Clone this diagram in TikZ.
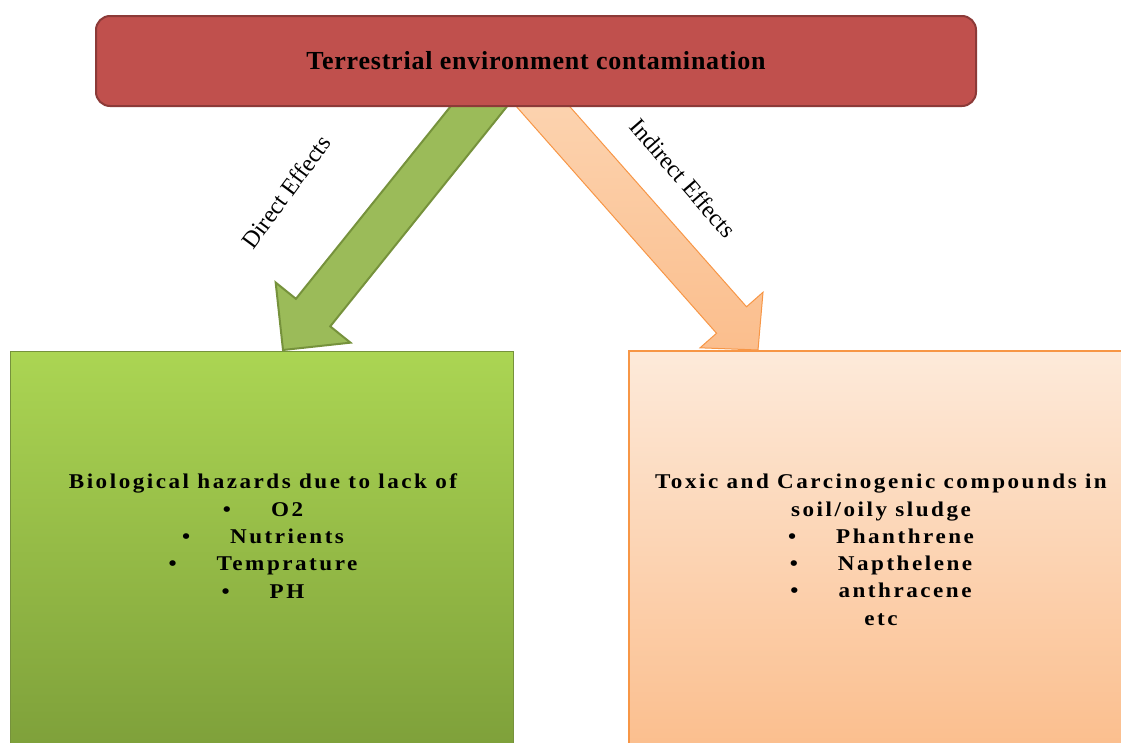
\documentclass[tikz,border=0pt]{standalone}
\usepackage{fontspec}
\setmainfont{Liberation Serif}
\usetikzlibrary{calc,backgrounds,positioning}

\definecolor{topred}{RGB}{192,80,77}
\definecolor{topredline}{RGB}{140,58,56}
\definecolor{greentop}{RGB}{171,213,83}
\definecolor{greenbot}{RGB}{126,160,58}
\definecolor{greenline}{RGB}{118,146,60}
\definecolor{greenarrow}{RGB}{155,187,89}
\definecolor{orangetop}{RGB}{253,234,218}
\definecolor{orangebot}{RGB}{251,190,141}
\definecolor{orangemid}{RGB}{252,214,180}
\definecolor{orangeline}{RGB}{247,150,70}

\begin{document}
\begin{tikzpicture}[x=1pt,y=-1pt,font=\bfseries]

   \tikzstyle{headbox}=[draw=topredline,fill=topred,line width=2pt,rounded corners=14pt,minimum width=880pt,minimum height=90pt,font=\bfseries\fontsize{26}{30}\selectfont\addfontfeatures{LetterSpace=3}]
   \tikzstyle{greenbox}=[draw=greenline,top color=greentop,bottom color=greenbot,line width=1pt,minimum width=503pt,minimum height=400pt,anchor=north]
   \tikzstyle{orangebox}=[draw=orangeline,top color=orangetop,bottom color=orangebot,line width=1.5pt,minimum width=500pt,minimum height=400pt,anchor=north]
   \tikzstyle{boxtext}=[anchor=north,inner sep=0pt,align=center,font=\bfseries\fontsize{21}{27.3}\selectfont\addfontfeatures{FakeStretch=1.1,LetterSpace=12}]
   \tikzstyle{effect}=[inner sep=0pt,font=\fontsize{24}{24}\selectfont]
   \tikzstyle{greenarr}=[draw=greenline,fill=greenarrow,line width=2pt,line join=miter]
   \tikzstyle{orangearr}=[draw=orangeline,top color=orangemid,bottom color=orangebot,line width=1pt,line join=miter]

   \useasboundingbox (0,0) rectangle (1121,742);

   \node[headbox] (top) at (536,61) {Terrestrial environment contamination};

   \node[greenbox] (bio) at (261.5,351) {};
   \node[orangebox] (tox) at (879,350) {};

   \node[boxtext] (biotext) at (263,474)
     {Biological hazards due to lack of\\
      \textbullet\hspace{40pt}O2\\
      \textbullet\hspace{40pt}Nutrients\\
      \textbullet\hspace{40pt}Temprature\\
      \textbullet\hspace{40pt}PH};

   \node[boxtext] (toxtext) at (881,474)
     {Toxic and Carcinogenic compounds in\\
      soil/oily sludge\\
      \textbullet\hspace{40pt}Phanthrene\\
      \textbullet\hspace{40pt}Napthelene\\
      \textbullet\hspace{40pt}anthracene\\
      etc};

   % arrow ends
   \coordinate (gtail) at ([xshift=-36pt,yshift=27pt]top.south);
   \coordinate (gtip) at ([xshift=21.5pt,yshift=1pt]bio.north);
   \coordinate (ghead) at ($(gtip)!48pt!(gtail)$);
   \coordinate (otail) at ([xshift=-19pt,yshift=30pt]top.south);
   \coordinate (otip) at ([xshift=-121pt]tox.north);
   \coordinate (ohead) at ($(otip)!40pt!(otail)$);

   \begin{scope}[on background layer]
    \draw[greenarr] ($(gtail)!22pt!90:(gtip)$) -- ($(ghead)!22pt!90:(gtip)$)
       -- ($(ghead)!48pt!90:(gtip)$) -- (gtip) -- ($(ghead)!48pt!-90:(gtip)$)
       -- ($(ghead)!22pt!-90:(gtip)$) -- ($(gtail)!22pt!-90:(gtip)$) -- cycle;
    \draw[orangearr] ($(otail)!20pt!90:(otip)$) -- ($(ohead)!20pt!90:(otip)$)
       -- ($(ohead)!42pt!90:(otip)$) -- (otip) -- ($(ohead)!42pt!-90:(otip)$)
       -- ($(ohead)!20pt!-90:(otip)$) -- ($(otail)!20pt!-90:(otip)$) -- cycle;
   \end{scope}

   \node[effect,rotate=53.5] (direct) at (286,192) {Direct Effects};
   \node[effect,rotate=-49] (indirect) at (683,178) {Indirect Effects};

\end{tikzpicture}
\end{document}
